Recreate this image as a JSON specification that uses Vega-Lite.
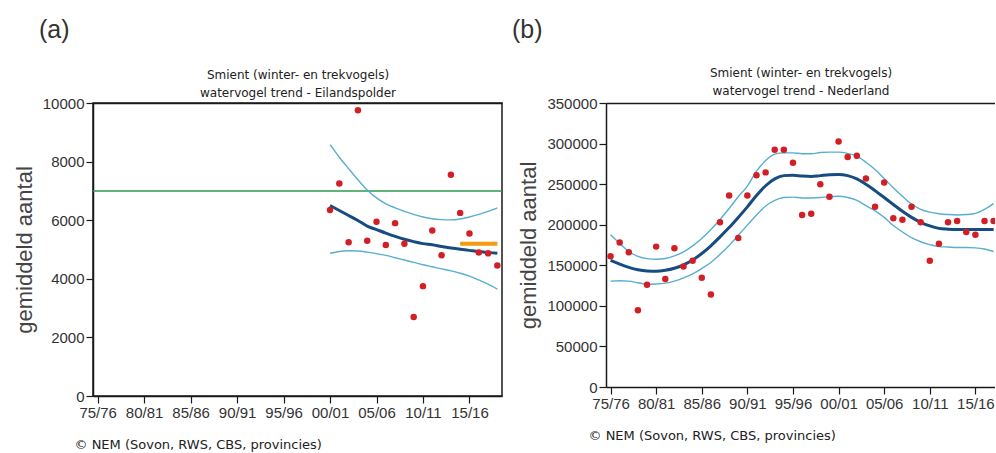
{
  "$schema": "https://vega.github.io/schema/vega-lite/v6.json",
  "background": "white",
  "padding": {"left": 12, "top": 17, "right": 0, "bottom": 0},
  "spacing": 7,
  "config": {
    "view": {"stroke": null},
    "font": "Liberation Sans",
    "axis": {
      "grid": false,
      "domainColor": "#1a1a1a",
      "domainWidth": 1.5,
      "tickColor": "#1a1a1a",
      "tickWidth": 1.2,
      "tickSize": 7,
      "labelPadding": 2,
      "labelColor": "#333333",
      "labelFont": "Liberation Sans",
      "labelFontSize": 15,
      "labelFlush": false,
      "labelOverlap": false
    }
  },
  "datasets": {
    "a_pts": [
      {"year": 2000, "n": 6350}, {"year": 2001, "n": 7250}, {"year": 2002, "n": 5250},
      {"year": 2003, "n": 9750}, {"year": 2004, "n": 5300}, {"year": 2005, "n": 5950},
      {"year": 2006, "n": 5150}, {"year": 2007, "n": 5900}, {"year": 2008, "n": 5200},
      {"year": 2009, "n": 2700}, {"year": 2010, "n": 3750}, {"year": 2011, "n": 5650},
      {"year": 2012, "n": 4800}, {"year": 2013, "n": 7550}, {"year": 2014, "n": 6250},
      {"year": 2015, "n": 5550}, {"year": 2016, "n": 4900}, {"year": 2017, "n": 4870},
      {"year": 2018, "n": 4450}
    ],
    "a_trend": [
      {"year": 2000, "mid": 6500, "lo": 4870, "hi": 8580},
      {"year": 2001, "mid": 6330, "lo": 4930, "hi": 8150},
      {"year": 2002, "mid": 6160, "lo": 4955, "hi": 7760},
      {"year": 2003, "mid": 5990, "lo": 4950, "hi": 7380},
      {"year": 2004, "mid": 5800, "lo": 4910, "hi": 7030},
      {"year": 2005, "mid": 5680, "lo": 4860, "hi": 6760},
      {"year": 2006, "mid": 5560, "lo": 4800, "hi": 6560},
      {"year": 2007, "mid": 5450, "lo": 4720, "hi": 6420},
      {"year": 2008, "mid": 5350, "lo": 4640, "hi": 6300},
      {"year": 2009, "mid": 5270, "lo": 4560, "hi": 6200},
      {"year": 2010, "mid": 5200, "lo": 4480, "hi": 6110},
      {"year": 2011, "mid": 5160, "lo": 4410, "hi": 6050},
      {"year": 2012, "mid": 5100, "lo": 4340, "hi": 6020},
      {"year": 2013, "mid": 5050, "lo": 4270, "hi": 6010},
      {"year": 2014, "mid": 5010, "lo": 4190, "hi": 6040},
      {"year": 2015, "mid": 4970, "lo": 4090, "hi": 6110},
      {"year": 2016, "mid": 4930, "lo": 3960, "hi": 6200},
      {"year": 2017, "mid": 4900, "lo": 3820, "hi": 6300},
      {"year": 2018, "mid": 4870, "lo": 3650, "hi": 6420}
    ],
    "a_ref": [{"ref": 7000}],
    "a_recent": [{"year": 2014, "year2": 2018, "v": 5200}],
    "b_pts": [
      {"year": 1975, "n": 161000}, {"year": 1976, "n": 178000}, {"year": 1977, "n": 166000},
      {"year": 1978, "n": 94500}, {"year": 1979, "n": 126000}, {"year": 1980, "n": 173000},
      {"year": 1981, "n": 133000}, {"year": 1982, "n": 171000}, {"year": 1983, "n": 148500},
      {"year": 1984, "n": 155500}, {"year": 1985, "n": 134500}, {"year": 1986, "n": 114000},
      {"year": 1987, "n": 203000}, {"year": 1988, "n": 236000}, {"year": 1989, "n": 183500},
      {"year": 1990, "n": 236000}, {"year": 1991, "n": 261000}, {"year": 1992, "n": 264500},
      {"year": 1993, "n": 292500}, {"year": 1994, "n": 292500}, {"year": 1995, "n": 276500},
      {"year": 1996, "n": 212000}, {"year": 1997, "n": 213500}, {"year": 1998, "n": 250000},
      {"year": 1999, "n": 234500}, {"year": 2000, "n": 302500}, {"year": 2001, "n": 283500},
      {"year": 2002, "n": 285000}, {"year": 2003, "n": 257000}, {"year": 2004, "n": 222000},
      {"year": 2005, "n": 252000}, {"year": 2006, "n": 208000}, {"year": 2007, "n": 206000},
      {"year": 2008, "n": 222000}, {"year": 2009, "n": 203000}, {"year": 2010, "n": 155500},
      {"year": 2011, "n": 176500}, {"year": 2012, "n": 203000}, {"year": 2013, "n": 204500},
      {"year": 2014, "n": 191000}, {"year": 2015, "n": 187500}, {"year": 2016, "n": 204500},
      {"year": 2017, "n": 204500}
    ],
    "b_trend": [
      {"year": 1975, "mid": 156000, "lo": 130500, "hi": 187600},
      {"year": 1976, "mid": 151500, "lo": 131000, "hi": 177000},
      {"year": 1977, "mid": 147500, "lo": 130500, "hi": 167000},
      {"year": 1978, "mid": 144500, "lo": 128500, "hi": 161000},
      {"year": 1979, "mid": 143000, "lo": 126700, "hi": 158200},
      {"year": 1980, "mid": 142700, "lo": 127000, "hi": 157500},
      {"year": 1981, "mid": 143800, "lo": 128000, "hi": 158300},
      {"year": 1982, "mid": 146300, "lo": 130500, "hi": 161500},
      {"year": 1983, "mid": 150500, "lo": 134500, "hi": 166500},
      {"year": 1984, "mid": 156500, "lo": 139500, "hi": 174000},
      {"year": 1985, "mid": 164500, "lo": 146000, "hi": 183000},
      {"year": 1986, "mid": 174000, "lo": 153500, "hi": 194000},
      {"year": 1987, "mid": 185000, "lo": 163500, "hi": 206500},
      {"year": 1988, "mid": 196500, "lo": 174500, "hi": 220000},
      {"year": 1989, "mid": 209000, "lo": 187000, "hi": 234500},
      {"year": 1990, "mid": 222000, "lo": 199500, "hi": 247500},
      {"year": 1991, "mid": 236000, "lo": 212000, "hi": 266000},
      {"year": 1992, "mid": 248000, "lo": 223000, "hi": 279000},
      {"year": 1993, "mid": 256500, "lo": 230000, "hi": 287000},
      {"year": 1994, "mid": 260500, "lo": 233500, "hi": 288500},
      {"year": 1995, "mid": 261000, "lo": 234000, "hi": 288500},
      {"year": 1996, "mid": 260000, "lo": 233000, "hi": 287500},
      {"year": 1997, "mid": 259500, "lo": 233000, "hi": 287500},
      {"year": 1998, "mid": 260500, "lo": 233500, "hi": 289000},
      {"year": 1999, "mid": 261500, "lo": 234500, "hi": 289500},
      {"year": 2000, "mid": 262000, "lo": 235000, "hi": 289500},
      {"year": 2001, "mid": 260500, "lo": 233500, "hi": 288000},
      {"year": 2002, "mid": 256500, "lo": 230000, "hi": 284500},
      {"year": 2003, "mid": 250000, "lo": 223500, "hi": 277000},
      {"year": 2004, "mid": 242000, "lo": 217000, "hi": 268000},
      {"year": 2005, "mid": 233500, "lo": 209000, "hi": 257000},
      {"year": 2006, "mid": 225000, "lo": 199000, "hi": 245500},
      {"year": 2007, "mid": 216500, "lo": 191000, "hi": 235000},
      {"year": 2008, "mid": 209000, "lo": 184000, "hi": 225500},
      {"year": 2009, "mid": 203000, "lo": 179000, "hi": 219000},
      {"year": 2010, "mid": 198500, "lo": 175500, "hi": 215500},
      {"year": 2011, "mid": 195500, "lo": 173000, "hi": 213500},
      {"year": 2012, "mid": 194500, "lo": 172500, "hi": 212500},
      {"year": 2013, "mid": 194000, "lo": 172000, "hi": 212000},
      {"year": 2014, "mid": 194000, "lo": 172000, "hi": 212500},
      {"year": 2015, "mid": 194000, "lo": 171500, "hi": 214000},
      {"year": 2016, "mid": 194000, "lo": 170000, "hi": 219000},
      {"year": 2017, "mid": 194000, "lo": 167000, "hi": 226000}
    ]
  },
  "hconcat": [
    {
      "width": 409,
      "height": 293,
      "title": {"text": "(a)", "anchor": "start", "frame": "group", "dx": -54, "fontSize": 25, "font": "Liberation Sans", "fontWeight": "normal", "color": "#333333", "offset": 25},
      "view": {"stroke": "#1a1a1a", "strokeWidth": 1.5},
      "resolve": {"axis": {"x": "independent"}},
      "layer": [
        {
          "data": {"name": "a_ref"},
          "mark": {"type": "rule", "color": "#2a9a52", "strokeWidth": 1.5},
          "encoding": {
            "y": {"field": "ref", "type": "quantitative", "scale": {"domain": [0, 10000], "nice": false},
              "axis": {"orient": "left", "values": [0, 2000, 4000, 6000, 8000, 10000], "format": "d",
                "title": "gemiddeld aantal", "titleFont": "Liberation Sans", "titleFontSize": 22, "titleFontWeight": "normal", "titleColor": "#444444", "titlePadding": 6}}
          }
        },
        {
          "data": {"name": "a_trend"},
          "mark": {"type": "line", "color": "#58afcf", "strokeWidth": 1.4, "interpolate": "monotone"},
          "encoding": {
            "x": {"field": "year", "type": "quantitative", "scale": {"domain": [1974.5, 2018.5], "nice": false, "zero": false},
              "axis": {"orient": "bottom", "values": [1975, 1980, 1985, 1990, 1995, 2000, 2005, 2010, 2015],
                "labelExpr": "slice('0' + (datum.value % 100), -2) + '/' + slice('0' + ((datum.value + 1) % 100), -2)",
                "title": "© NEM (Sovon, RWS, CBS, provincies)", "titleAnchor": "start", "titleAlign": "left", "titleX": -19,
                "titleFont": "DejaVu Sans", "titleFontSize": 13, "titleFontWeight": "normal", "titleColor": "#222222", "titlePadding": 18}},
            "y": {"field": "hi", "type": "quantitative"}
          }
        },
        {
          "data": {"name": "a_trend"},
          "mark": {"type": "line", "color": "#58afcf", "strokeWidth": 1.4, "interpolate": "monotone"},
          "encoding": {
            "x": {"field": "year", "type": "quantitative", "axis": null},
            "y": {"field": "lo", "type": "quantitative"}
          }
        },
        {
          "data": {"name": "a_trend"},
          "mark": {"type": "line", "color": "#174c80", "strokeWidth": 3, "interpolate": "monotone"},
          "encoding": {
            "x": {"field": "year", "type": "quantitative",
              "axis": {"orient": "top", "labels": false, "ticks": false, "domain": true,
                "title": ["Smient (winter- en trekvogels)", "watervogel trend - Eilandspolder"],
                "titleFont": "DejaVu Sans", "titleFontSize": 12, "titleFontWeight": "normal", "titleColor": "#222222", "titleLineHeight": 18, "titlePadding": 4}},
            "y": {"field": "mid", "type": "quantitative"}
          }
        },
        {
          "data": {"name": "a_pts"},
          "mark": {"type": "circle", "color": "#d21f26", "opacity": 1, "size": 42},
          "encoding": {
            "x": {"field": "year", "type": "quantitative", "axis": null},
            "y": {"field": "n", "type": "quantitative"}
          }
        },
        {
          "data": {"name": "a_recent"},
          "mark": {"type": "rule", "color": "#f39a0f", "strokeWidth": 4},
          "encoding": {
            "x": {"field": "year", "type": "quantitative", "axis": null},
            "x2": {"field": "year2"},
            "y": {"field": "v", "type": "quantitative"}
          }
        }
      ]
    },
    {
      "width": 389,
      "height": 284,
      "title": {"text": "(b)", "anchor": "start", "frame": "group", "dx": -94, "fontSize": 25, "font": "Liberation Sans", "fontWeight": "normal", "color": "#333333", "offset": 23},
      "resolve": {"axis": {"x": "independent"}},
      "layer": [
        {
          "data": {"name": "b_trend"},
          "mark": {"type": "line", "color": "#58afcf", "strokeWidth": 1.4, "interpolate": "monotone", "clip": true},
          "encoding": {
            "x": {"field": "year", "type": "quantitative", "scale": {"domain": [1974.5, 2017.15], "nice": false, "zero": false},
              "axis": {"orient": "bottom", "values": [1975, 1980, 1985, 1990, 1995, 2000, 2005, 2010, 2015],
                "labelExpr": "slice('0' + (datum.value % 100), -2) + '/' + slice('0' + ((datum.value + 1) % 100), -2)",
                "title": "© NEM (Sovon, RWS, CBS, provincies)", "titleAnchor": "start", "titleAlign": "left", "titleX": -18,
                "titleFont": "DejaVu Sans", "titleFontSize": 13, "titleFontWeight": "normal", "titleColor": "#222222", "titlePadding": 18}},
            "y": {"field": "hi", "type": "quantitative", "scale": {"domain": [0, 350000], "nice": false},
              "axis": {"orient": "left", "values": [0, 50000, 100000, 150000, 200000, 250000, 300000, 350000], "format": "d",
                "title": "gemiddeld aantal", "titleFont": "Liberation Sans", "titleFontSize": 22, "titleFontWeight": "normal", "titleColor": "#444444", "titlePadding": 6}}
          }
        },
        {
          "data": {"name": "b_trend"},
          "mark": {"type": "line", "color": "#58afcf", "strokeWidth": 1.4, "interpolate": "monotone", "clip": true},
          "encoding": {
            "x": {"field": "year", "type": "quantitative", "axis": null},
            "y": {"field": "lo", "type": "quantitative"}
          }
        },
        {
          "data": {"name": "b_trend"},
          "mark": {"type": "line", "color": "#174c80", "strokeWidth": 3, "interpolate": "monotone", "clip": true},
          "encoding": {
            "x": {"field": "year", "type": "quantitative",
              "axis": {"orient": "top", "labels": false, "ticks": false, "domain": true,
                "title": ["Smient (winter- en trekvogels)", "watervogel trend - Nederland"],
                "titleFont": "DejaVu Sans", "titleFontSize": 12, "titleFontWeight": "normal", "titleColor": "#222222", "titleLineHeight": 18, "titlePadding": 6}},
            "y": {"field": "mid", "type": "quantitative"}
          }
        },
        {
          "data": {"name": "b_pts"},
          "mark": {"type": "circle", "color": "#d21f26", "opacity": 1, "size": 42, "clip": true},
          "encoding": {
            "x": {"field": "year", "type": "quantitative", "axis": null},
            "y": {"field": "n", "type": "quantitative"}
          }
        }
      ]
    }
  ]
}
